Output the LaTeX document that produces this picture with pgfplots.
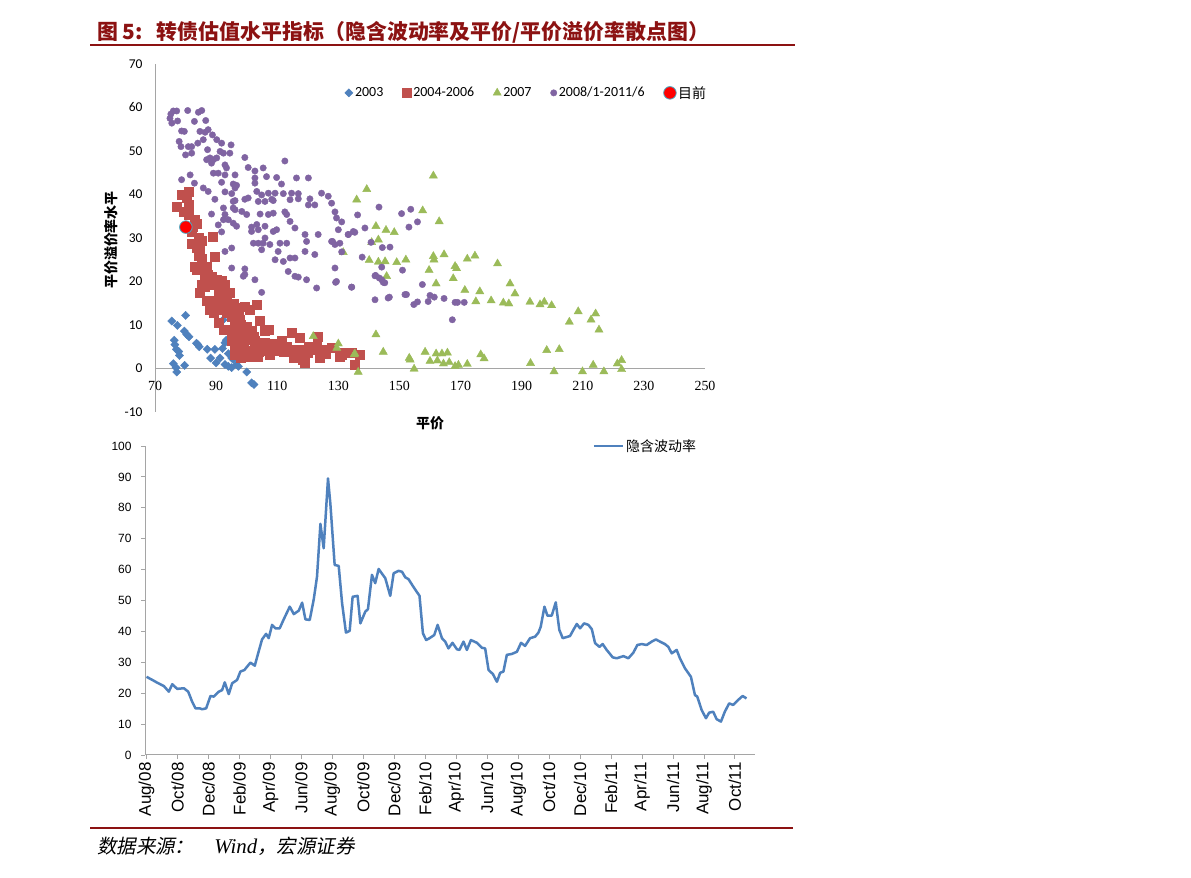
\documentclass[border=0pt]{standalone}
\usepackage{fontspec}
\usepackage{pgfplots}
\pgfplotsset{compat=1.18}
\setmainfont{Liberation Sans}
\newfontfamily\carlito{Carlito}
\newfontfamily\lserif{Liberation Serif}
\newfontfamily\cjk{Noto Sans CJK SC}
\newfontfamily\cjkit[FakeSlant=0.2]{Noto Sans CJK SC}
\newfontfamily\lserifit{Liberation Serif Italic}
\definecolor{xlblue}{RGB}{79,129,189}
\definecolor{xlred}{RGB}{192,80,77}
\definecolor{xlgreen}{RGB}{155,187,89}
\definecolor{xlpurple}{RGB}{128,100,162}
\definecolor{cyanedge}{RGB}{75,172,198}
\definecolor{titlered}{RGB}{140,18,18}
\definecolor{axgray}{RGB}{165,165,165}
\begin{document}
\begin{tikzpicture}[x=1bp,y=1bp]
\fill[white] (0,0) rectangle (1191,878);
\path[use as bounding box] (0,0) rectangle (1191,878);
% title
\node[anchor=west, text=titlered, font=\cjk\bfseries\fontsize{21}{21}\selectfont, inner sep=0] at (97,846) {图 5:\hspace{14bp}转债估值水平指标（隐含波动率及平价/平价溢价率散点图）};
\draw[titlered, line width=2.2bp] (90,833) -- (795,833);
\draw[titlered, line width=2.2bp] (90,50) -- (793,50);
\node[anchor=west, font=\fontsize{19.5}{19.5}\selectfont, inner sep=0] at (97,32) {{\cjkit 数据来源：}\hspace{20bp}{\lserifit\fontsize{21}{21}\selectfont Wind}{\cjkit ，宏源证券}};
% scatter labels
\node[rotate=90, font=\cjk\bfseries\fontsize{14}{14}\selectfont] at (111,638) {平价溢价率水平};
\node[font=\cjk\bfseries\fontsize{14}{14}\selectfont] at (430,455) {平价};

\begin{axis}[
  at={(155bp,466bp)}, anchor=south west, scale only axis,
  width=550bp, height=348bp,
  xmin=70, xmax=250, ymin=-10, ymax=70,
  axis x line=middle, axis y line=left,
  axis line style={-, draw=axgray, line width=1bp},
  hide obscured x ticks=false, hide obscured y ticks=false,
  xtick={70,90,...,250}, ytick={-10,0,...,70},
  major tick length=0pt,
  /pgf/number format/assume math mode=true,
  xticklabel style={font=\lserif\fontsize{14}{14}\selectfont, yshift=-9bp},
  yticklabel style={font=\carlito\fontsize{13.5}{13.5}\selectfont, xshift=-9bp},
  clip=false,
  legend columns=5,
  legend style={at={(0.343,0.917)}, anchor=west, draw=none, fill=none,
    font=\carlito\fontsize{14}{14}\selectfont, inner sep=1bp,
    /tikz/every even column/.append style={column sep=17bp}},
  legend cell align=left,
]
\addplot[only marks, mark=square*, mark size=2.9bp, mark options={rotate=45}, color=xlblue] coordinates {
(75.5,10.9)(77.3,9.9)(80,12.2)(79.6,8.6)(80.4,7.8)(81.1,7.3)(76.3,6.5)(76.5,5.5)(77,4.4)(77.8,3.9)(78,3.0)(76,1.1)(76.9,0.2)(77.1,-0.8)(79.7,0.7)(84,5.5)(84.5,5.0)(83.6,5.8)(87.1,4.4)(88.2,2.4)(89.6,4.4)(90,1.3)(91.3,2.4)(92.1,4.6)(92.9,5.9)(93.3,6.5)(92.9,0.9)(94,0.5)(95.1,0.2)(94,3.4)(95.1,2.4)(95.6,2.1)(96.7,0.9)(97.3,0.5)(92.3,11.2)(95,8.6)(96.2,5.5)(98.8,5.5)(98.9,4.4)(100,-0.8)(101.6,-3.3)(102.4,-3.7)(96.5,6.8)(97.5,6.2)
};
\addlegendentry{2003}
\addplot[only marks, mark=square*, mark size=4.5bp, color=xlred] coordinates {
(80.9,40.7)(78.7,39.9)(80.4,39.2)(77.1,37.3)(80.9,37.6)(79.3,36.1)(80.9,35.3)(83.1,34.2)(82.5,32.7)(83.8,33.2)(82,31.5)(84.2,30)(82,28.8)(85.3,29.3)(83.8,27.8)(84.7,27)(88.8,30.4)(89.6,25.8)(84.2,26)(85.3,25.2)(83.1,23.5)(84.7,23.1)(86.9,23.3)(87.4,21.6)(86.4,20.8)(88.6,20.8)(90.2,20.4)(91.8,20.2)
(83.6,22.7)(88.6,21.2)(90.3,20)(85.3,19.3)(86.4,18.9)(84.7,17.4)(88.6,19.3)(91.3,18.9)(92.9,19.3)(94.5,17.4)(91.8,17)(90.7,17.4)
(86.9,15.5)(88,15.1)(89.6,15.5)(90.7,15.1)(92.4,14.5)(93.5,15.1)(95.6,14.8)(96.2,14.0)
(88,13.5)(89.1,12.8)(90.7,13.5)(93.4,12.8)(95.1,12)(97.3,12.8)(97.8,11.2)(96.2,11.6)
(99.4,14.3)(101,13.5)(103.3,14.7)(104.4,10.9)(107.1,9)(106,8.6)
(90.7,10.5)(92.4,8.9)(93.4,8.9)(95.1,7.8)(97.3,8.2)(98.4,7.4)(99.4,7.8)(100.5,7.0)(102.2,7.4)(96,9.5)(98,10)(100,9.5)(101.5,8.8)(97,6.5)(99,6.2)(103,6.0)(104.5,5.5)(106,6.0)(108,5.5)
(95.1,6.3)(96.2,5.5)(97.8,5.5)(98.9,6.3)(101.1,6.7)(102.7,6.3)(103.8,5.5)(105.4,5.9)(107.1,5.5)(108.7,4.4)(110.3,4.0)(111.4,6.3)(113.1,5.1)(114.7,8.2)(115.8,4.4)(117.4,7.0)(118,4.4)(120.2,5.1)(121.3,4.7)(122.9,5.1)(123.4,7.4)(125.1,4.4)(127.8,4.7)(131.1,3.2)(132.2,3.6)(134.3,3.6)(135.4,0.9)(137.1,3.2)
(97,4)(99,3.5)(100.5,3.8)(102,4.2)(104,3.8)(106,4)(107.5,3.2)(109.5,4.2)(112,3.8)(112.5,4.5)(115.3,2.4)(118.4,2.0)(119.1,1.3)(120,3.6)(122.5,4.3)(124,2.4)(126,3.5)(130.5,2.8)(98,2.5)(96,3.2)(101,2.8)(103.5,2.7)(105.5,4.8)(109,5.8)(111,4.9)
};
\addlegendentry{2004-2006}
\addplot[only marks, mark=triangle*, mark size=4.7bp, color=xlgreen] coordinates {
(161.1,44.3)(139.3,41.2)(136,38.8)(157.6,36.3)(163,33.8)(142.3,32.7)(145.6,31.8)(148.3,31.3)(143.1,29.6)(140.9,29)(131.6,26.7)(140.1,24.9)(143.1,24.5)(145.3,24.6)(149.1,24.4)(152.1,25)(161.1,25.8)(161.3,25)(164.6,26.2)(172.2,25.2)(174.7,25.9)(182.1,24.1)(159.7,22.6)(168.2,23.5)(168.7,23)(145.8,21.2)(167.6,20.7)(162,19.5)(186.2,19.5)(171.4,18)(176.3,17.7)(187.8,17.2)(175,15.4)(180,15.6)(184,15.1)(185.8,14.9)(192.7,15.3)(196,14.7)(197.4,15.3)(199.8,14.5)(208.5,13.1)(214.2,12.6)(205.6,10.7)(212.7,11.2)(215.3,8.9)(142.3,7.8)(144.7,3.8)(135.4,3.4)(130,5.7)(129.5,4.7)(136.5,-0.8)(153.2,2.4)(153.5,2.0)(154.8,-0.1)(158.4,3.8)(160,1.7)(162,3.4)(162.4,1.8)(163.9,3.4)(165.7,3.6)(164.4,1.1)(166.3,1.4)(168.2,0.5)(169.3,0.8)(172.2,1.0)(176.6,3.2)(177.7,2.3)(192.9,1.2)(198.2,4.2)(202.3,4.4)(200.6,-0.7)(209.9,-0.7)(213.4,0.8)(216.9,-0.7)(221.3,1.1)(222.7,1.9)(222.7,-0.2)(121.8,7.4)(135.2,3.2)
};
\addlegendentry{2007}
\addplot[only marks, mark=*, mark size=3.2bp, color=xlpurple] coordinates {
(76.0,59.2)(77.1,59.2)(80.7,59.3)(84.2,58.9)(85.3,59.3)(74.9,57.5)(75.5,56.4)(77.4,56.9)(82.9,56.8)(86.6,57.0)(75.2,58.5)
(78.7,54.6)(79.6,54.5)(84.7,54.5)(86.4,54.3)(87.4,54.9)(88.8,53.7)(90.2,52.6)(91.8,51.8)(77.9,52.2)(78.5,51)(80.9,51)(82,51)(84,51.8)(85.8,52.6)(94.9,51.4)(87.2,50.3)(91.3,49.9)(92.4,49.5)(94.5,49.5)(80,49.1)(82,49.5)
(86.9,48)(88,48.4)(89.1,48)(90.2,48.4)(88.5,47.2)(92.9,46.8)(93.4,46.1)(99.4,48.5)(100.5,46.2)(102.7,45.4)(105.4,46.1)(112.5,47.7)(89.1,44.9)(90.7,44.9)(92.9,44.5)(96.2,44.5)(81.5,44.5)(78.7,43.4)(82.9,42.6)
(91.8,42.8)(95.6,42.4)(96.7,42.1)(96.2,41.5)(102.7,43.8)(102.7,42.6)(106.5,44.1)(109.8,43.9)(111.4,42.4)(116.3,43.8)(120.2,43.8)(85.8,41.5)(87.4,40.7)(92.9,40.6)(95.1,40.2)(103.3,40.7)(104.9,39.9)(107.1,40.3)(109.3,40.3)(112,40.2)(114.7,40.3)(116.9,40.2)(124.5,40.3)(126.7,39.6)(89.6,38.9)(96.2,38.6)(95.6,38.4)(99.4,38.9)(100.5,39.2)(103.8,38.4)(106,38.4)(108.2,38.9)(108.7,38.6)(114.2,38.8)(116.9,39)(120.7,39)(122.3,37.6)(120.2,37.6)(127.8,38.0)
(88.5,35.5)(92.4,36.9)(92.9,35.4)(95.6,36.9)(96.2,36.5)(98.4,36.1)(100,35.4)(104.4,35.5)(107.1,35.4)(108.7,35.7)(112.5,36)(113.1,35.4)(128.9,36)(92.4,34.2)(94,34.2)(95.6,33.4)(96.7,32.7)(114.2,33.8)(129.4,34.6)(131.1,33.7)(90.7,33.0)(101.6,32.5)(103.3,33.1)(106,32.7)(108.7,31.5)(109.8,31.9)(115.8,32.3)(91.8,31.4)(101.6,31.5)(103.8,31.9)(119.1,30.8)(123.4,30.8)(130,31.9)(133.2,30.8)(134.9,31.5)(106,30)(102.2,28.8)(103.8,28.8)(105.4,28.8)(107.6,28.5)(110.9,28.8)(113.1,28.8)(119.6,29.2)(127.8,29.2)(130.5,28.8)(92.9,26.9)(95.1,27.7)(104.9,27.3)(110.3,26.9)(119.1,26.9)(122.3,26.2)(109.3,25)(112,24.6)(114.2,25.4)(115.8,25.4)(95.1,23.1)(99.4,22.9)(128.9,23.1)(98.9,21.2)(102.7,20.4)(115.8,21.2)(119.6,20.4)(129.4,20)
(104.9,17.5)(113.6,22.3)(116.9,21.0)(122.9,18.5)(134.3,18.7)(142,21.3)(144.2,20.4)(145.2,19.7)(142,15.8)(146.3,16.2)(151.8,17)(99.4,21.6)
(136.3,35.3)(138.7,32.3)(143.3,37.1)(150.7,35.6)(153.7,36.6)(153.1,32.5)(155.9,33.7)(140.7,29)(144.4,27.8)(146.9,27.9)(131.1,26.8)(137.8,25.6)(144.2,23.3)(151.0,22.6)(142.2,21.4)(143.4,20.8)(144.7,19.8)(129.1,19.8)(134.4,18.7)(157.5,19.3)(146.7,16.4)(152.3,17)(154.7,14.7)(155.9,15.3)(159.4,15.4)(160,16.8)(161.4,16.4)(164.6,16.1)(168.2,15.2)(169,15.2)(171.2,15.2)(167.3,11.2)(128.1,29.2)(128.9,28.5)(135.4,31.3)(133.3,30.8)
};
\addlegendentry{2008/1-2011/6}
\addplot[only marks, mark=*, mark size=6.3bp, mark options={fill=red, draw=cyanedge, line width=0.8bp}] coordinates {(80.1,32.5)};
\addlegendentry{{\cjk 目前}}
\end{axis}

\begin{axis}[
  at={(145bp,123bp)}, anchor=south west, scale only axis,
  width=610bp, height=309bp,
  xmin=-0.1, xmax=39.3, ymin=0, ymax=100,
  axis x line=bottom, axis y line=left,
  axis line style={-, draw=axgray, line width=1bp},
  tick style={draw=axgray, line width=0.8bp},
  tick align=outside, major tick length=4bp,
  xtick={0,2,...,38},
  xticklabels={Aug/08,Oct/08,Dec/08,Feb/09,Apr/09,Jun/09,Aug/09,Oct/09,Dec/09,Feb/10,Apr/10,Jun/10,Aug/10,Oct/10,Dec/10,Feb/11,Apr/11,Jun/11,Aug/11,Oct/11},
  ytick={0,10,...,100},
  /pgf/number format/assume math mode=true,
  xticklabel style={rotate=90, anchor=east, font=\fontsize{17}{17}\selectfont},
  yticklabel style={font=\fontsize{12}{12}\selectfont, xshift=-6bp},
  clip=false,
  legend style={at={(0.732,1.0)}, anchor=west, draw=none, fill=none,
    font=\cjk\fontsize{14}{14}\selectfont, inner sep=1bp},
  legend image code/.code={\draw[#1] (0bp,0bp) -- (29bp,0bp);},
]
\addplot[color=xlblue, line width=2.5bp, line join=round] coordinates {
(0,25.3)(0.37,24.3)(0.69,23.4)(1.12,22.3)(1.44,20.5)(1.66,22.9)(1.98,21.4)(2.41,21.6)(2.69,20.5)(2.95,17.2)(3.16,15.1)(3.44,15.1)(3.59,14.8)(3.85,15.1)(4.13,19.1)(4.34,18.9)(4.67,20.5)(4.88,21.0)(5.05,23.5)(5.31,19.7)(5.53,23.2)(5.85,24.3)(6.06,27.0)(6.32,27.5)(6.71,29.9)(6.99,28.9)(7.18,32.4)(7.46,37.4)(7.72,39.2)(7.89,37.8)(8.11,42.1)(8.32,41.0)(8.6,41.0)(8.86,43.9)(9.25,48.0)(9.51,45.6)(9.83,46.7)(10.05,49.3)(10.26,43.9)(10.54,43.7)(10.8,50.4)(11.01,57.7)(11.23,74.8)(11.44,66.9)(11.72,89.5)(11.87,81.5)(12.15,61.5)(12.41,61.2)(12.63,49.1)(12.88,39.6)(13.12,40.2)(13.31,51.2)(13.63,51.5)(13.81,42.6)(14.13,46.4)(14.3,47.2)(14.56,58.3)(14.77,55.6)(14.99,60.2)(15.42,57.2)(15.74,51.5)(15.96,58.8)(16.28,59.6)(16.5,59.3)(16.71,57.5)(16.92,56.9)(17.2,54.7)(17.63,51.5)(17.85,39.4)(18.06,37.2)(18.28,37.8)(18.58,38.8)(18.8,42.1)(19.08,37.8)(19.29,36.7)(19.5,34.5)(19.76,36.3)(20.05,34.2)(20.21,34.0)(20.47,36.7)(20.69,34.0)(20.95,37.2)(21.34,36.3)(21.66,34.7)(21.87,34.5)(22.09,27.5)(22.37,26.2)(22.63,23.7)(22.84,26.6)(23.05,27.0)(23.27,32.4)(23.59,32.7)(23.92,33.4)(24.19,36.3)(24.45,35.3)(24.77,37.8)(25.1,38.3)(25.31,39.6)(25.46,41.5)(25.7,48.0)(25.89,45.1)(26.17,45.1)(26.43,49.4)(26.66,40.5)(26.88,37.8)(27.35,38.5)(27.57,40.5)(27.79,42.4)(28.0,41.0)(28.26,42.6)(28.54,42.1)(28.76,40.7)(28.97,36.2)(29.25,35.0)(29.46,35.9)(29.72,34.0)(30.11,31.6)(30.37,31.3)(30.8,32.0)(31.12,31.3)(31.44,33.1)(31.7,35.6)(31.98,35.9)(32.3,35.6)(32.63,36.7)(32.9,37.4)(33.16,36.7)(33.48,35.9)(33.7,35.0)(33.92,32.9)(34.24,34.0)(34.45,31.3)(34.77,28.1)(35.16,25.3)(35.42,19.4)(35.57,18.9)(35.85,14.6)(36.13,11.9)(36.34,13.7)(36.6,14.0)(36.82,11.6)(37.1,10.8)(37.35,14.0)(37.63,16.7)(37.89,16.2)(38.21,17.8)(38.5,19.1)(38.75,18.3)
};
\addlegendentry{隐含波动率}
\end{axis}
\end{tikzpicture}
\end{document}
